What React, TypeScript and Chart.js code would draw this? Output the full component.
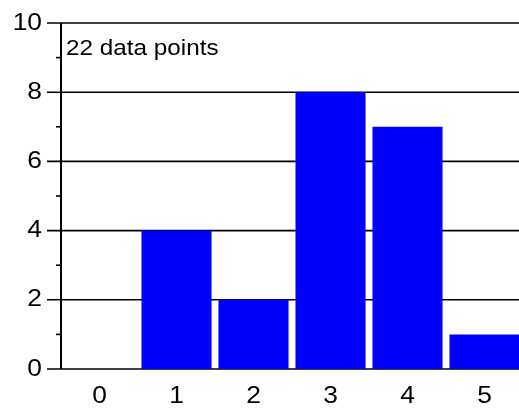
import React, { useEffect, useRef } from "react";
import { Chart, registerables } from "chart.js";

Chart.register(...registerables);

const categories = ["0", "1", "2", "3", "4", "5"];
const counts = [0, 4, 2, 8, 7, 1];
const yMajorTicks = [0, 2, 4, 6, 8, 10];
const yMinorTicks = [1, 3, 5, 7, 9];
const annotation = "22 data points";

const FONT = "'Liberation Sans', Arial, sans-serif";

function drawText(ctx: CanvasRenderingContext2D, text: string, x: number, y: number, size: number, sx: number, align: CanvasTextAlign, baseline: CanvasTextBaseline) {
  ctx.save();
  ctx.translate(x, y);
  ctx.scale(sx, 1);
  ctx.font = `${size}px ${FONT}`;
  ctx.fillStyle = "#000";
  ctx.textAlign = align;
  ctx.textBaseline = baseline;
  ctx.fillText(text, 0, 0);
  ctx.restore();
}

const axesPlugin = {
  id: "customAxes",
  beforeDatasetsDraw(chart: any) {
    const ctx = chart.ctx as CanvasRenderingContext2D;
    const { left, right, top, bottom } = chart.chartArea;
    const y = chart.scales.y;
    ctx.save();
    ctx.strokeStyle = "#000";
    for (const v of yMajorTicks) {
      const py = y.getPixelForValue(v);
      ctx.lineWidth = 1.6;
      ctx.beginPath();
      ctx.moveTo(left - 14, py);
      ctx.lineTo(right, py);
      ctx.stroke();
    }
    for (const v of yMinorTicks) {
      const py = y.getPixelForValue(v);
      ctx.lineWidth = 1.6;
      ctx.beginPath();
      ctx.moveTo(left - 5, py);
      ctx.lineTo(left, py);
      ctx.stroke();
    }
    ctx.lineWidth = 2;
    ctx.beginPath();
    ctx.moveTo(left, top);
    ctx.lineTo(left, bottom);
    ctx.stroke();
    ctx.restore();
  },
  afterDraw(chart: any) {
    const ctx = chart.ctx as CanvasRenderingContext2D;
    const { left, bottom } = chart.chartArea;
    const y = chart.scales.y;
    const x = chart.scales.x;
    for (const v of yMajorTicks) {
      drawText(ctx, String(v), left - 19, y.getPixelForValue(v), 24, 1.1, "right", "middle");
    }
    categories.forEach((c, i) => {
      drawText(ctx, c, x.getPixelForValue(i), bottom + 27, 24, 1.1, "center", "middle");
    });
    drawText(ctx, annotation, left + 5, y.getPixelForValue(10) + 32, 21.5, 1.13, "left", "alphabetic");
  },
};

export default function App() {
  const ref = useRef<HTMLCanvasElement>(null);
  useEffect(() => {
    document.body.style.margin = "0";
    document.body.style.overflow = "hidden";
    document.documentElement.style.overflow = "hidden";
    const chart = new Chart(ref.current!, {
      type: "bar",
      data: {
        labels: categories,
        datasets: [
          {
            data: counts,
            backgroundColor: "#0000ff",
            borderWidth: 0,
            barPercentage: 0.91,
            categoryPercentage: 1,
          },
        ],
      },
      options: {
        responsive: false,
        animation: false,
        devicePixelRatio: 1,
        layout: { padding: { top: 23, left: 0, right: 0, bottom: 0 } },
        plugins: { legend: { display: false }, tooltip: { enabled: false } },
        scales: {
          x: {
            type: "category",
            offset: true,
            grid: { display: false },
            border: { display: false },
            ticks: { display: false },
            afterFit: (s: any) => {
              s.height = 39;
            },
          },
          y: {
            min: 0,
            max: 10,
            grid: { display: false },
            border: { display: false },
            ticks: { display: false },
            afterFit: (s: any) => {
              s.width = 61;
            },
          },
        },
      },
      plugins: [axesPlugin],
    });
    return () => chart.destroy();
  }, []);
  return (
    <div style={{ position: "absolute", left: 0, top: 0, width: 523, height: 408, background: "#fff" }}>
      <canvas ref={ref} width={523} height={408} style={{ display: "block" }} />
    </div>
  );
}
